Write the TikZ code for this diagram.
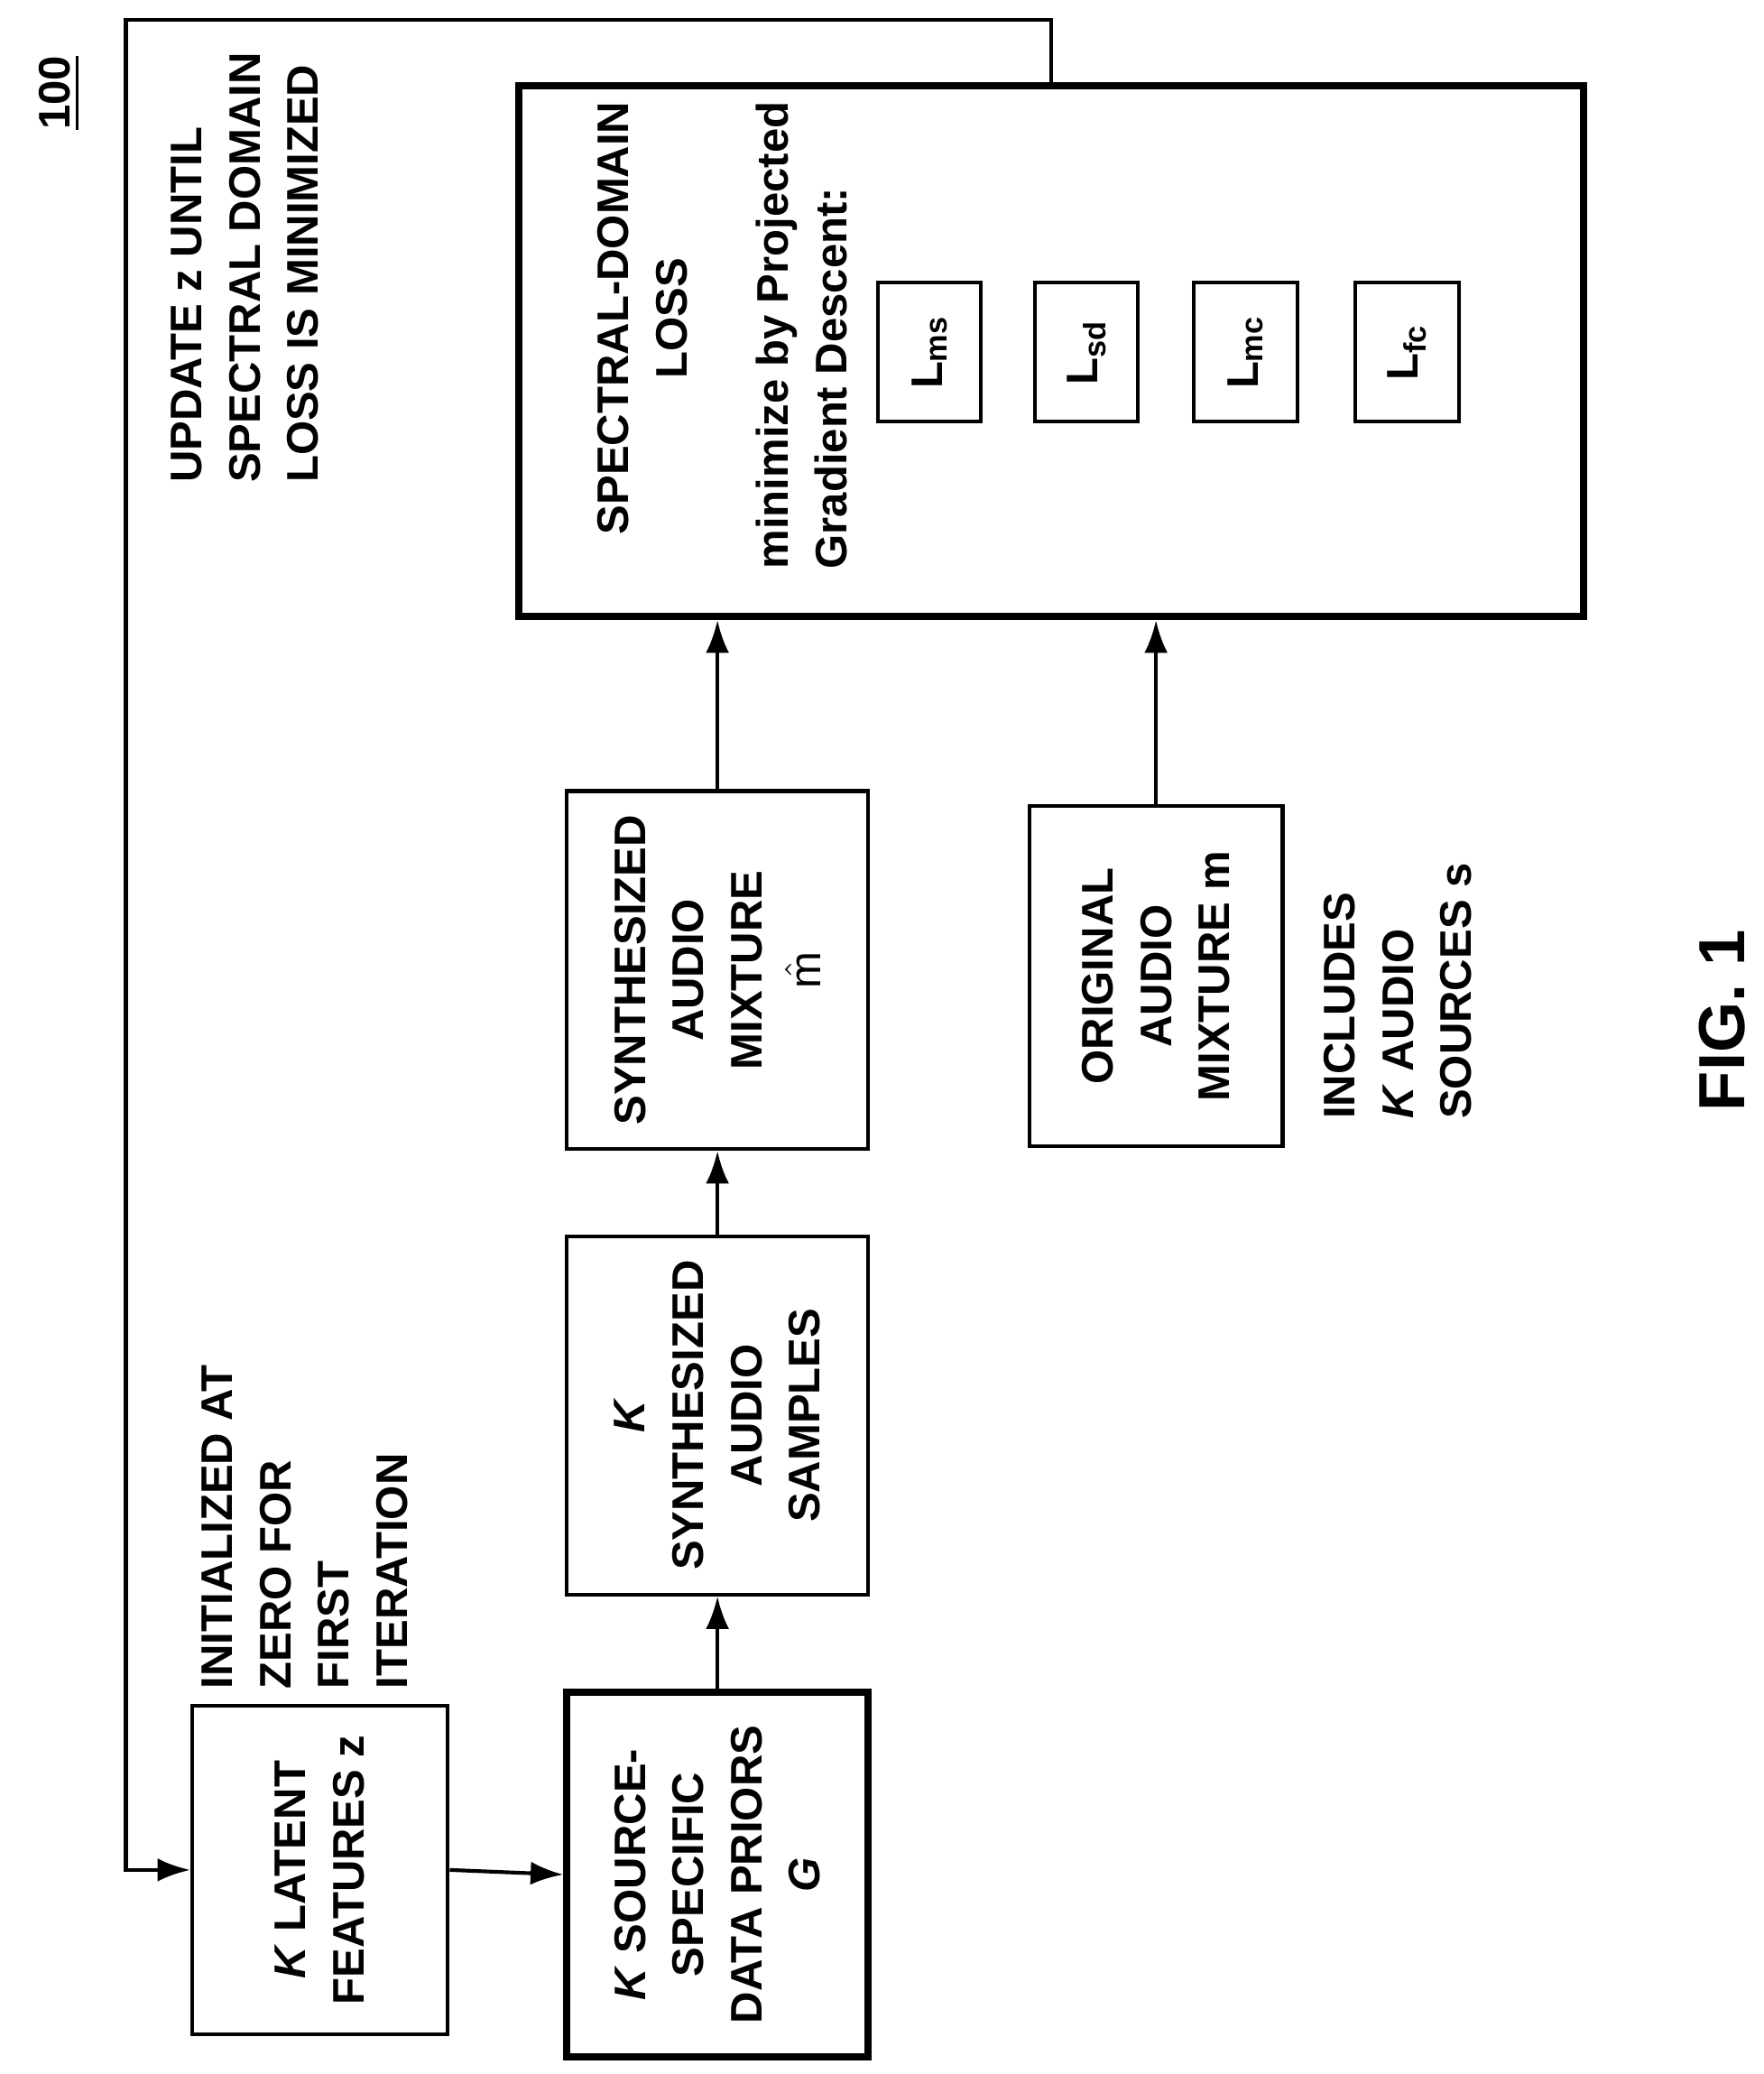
\documentclass[tikz,border=0pt]{standalone}
\usepackage{fontspec}
\setmainfont{Liberation Sans}
\usepackage{tikz}
\usetikzlibrary{positioning}
\usetikzlibrary{arrows.meta}

\begin{document}
\begin{tikzpicture}[
    x=0.01cm, y=-0.01cm,
    every node/.style = {font=\fontsize{9.5}{12.5}\selectfont\bfseries},
    box/.style = {draw, line width=0.8pt, inner sep=0pt},
    bigbox/.style = {box, line width=1.6pt},
    lbl/.style = {rotate=90, align=center, inner sep=0pt},
    note/.style = {rotate=90, align=left, anchor=west, inner sep=0pt},
    flow/.style = {-{Latex[length=7pt,width=5pt]}, line width=0.8pt}
]
\useasboundingbox (0,0) rectangle (1331,1565);

% blocks
\node[box, minimum width=1.93cm, minimum height=2.48cm] (latent) at (241.5,1411) {};
\node[bigbox, minimum width=2.27cm, minimum height=2.75cm] (priors) at (541.5,1414.5) {};
\node[box, minimum width=2.27cm, minimum height=2.70cm] (samples) at (541.5,1068) {};
\node[box, minimum width=2.27cm, minimum height=2.70cm] (mix) at (541.5,732) {};
\node[bigbox, minimum width=8.03cm, minimum height=4.00cm] (loss) at (793.5,265) {};
\node[box, minimum width=1.91cm, minimum height=2.57cm] (orig) at (872.5,736.5) {};

% loss terms
\foreach \n/\x/\s in {ms/701.5/ms, sd/820/sd, mc/940/mc, fc/1062/fc}
    \node[box, minimum width=0.78cm, minimum height=1.05cm] (l\n) at (\x,265.5) {};
\foreach \n/\s in {ms/ms, sd/sd, mc/mc, fc/fc}
    \node[lbl] (t\n) at (l\n) {L\textsubscript{\s}};

% texts
\node[lbl] (tlatent) at (latent) {\textit{K} LATENT\\FEATURES z};
\node[lbl] (tpriors) at (priors) {\textit{K} SOURCE-\\SPECIFIC\\DATA PRIORS\\\textit{G}};
\node[lbl] (tsamples) at (samples) {\textit{K}\\SYNTHESIZED\\AUDIO\\SAMPLES};
\node[lbl] (tmix) at (mix) {SYNTHESIZED\\AUDIO\\MIXTURE\\$\hat{\mathrm{m}}$};
\node[lbl] (torig) at (orig) {ORIGINAL\\AUDIO\\MIXTURE m};
\node[lbl] (tloss) at (485,240) {SPECTRAL-DOMAIN\\LOSS};
\node[note] (tmin) at (605,430) {minimize by Projected\\Gradient Descent:};
\node[note] (tinit) at (230,1275) {INITIALIZED AT\\ZERO FOR\\FIRST\\ITERATION};
\node[note] (tupdate) at (185,365) {UPDATE z UNTIL\\SPECTRAL DOMAIN\\LOSS IS MINIMIZED};
\node[note] (tincl) at (1055,845) {INCLUDES\\\textit{K} AUDIO\\SOURCES s};
\node[lbl] (ref) at (45,70) {\underline{100}};
\node[lbl, font=\fontsize{14}{16}\selectfont\bfseries] (fig) at (1300,770) {FIG. 1};

% connectors
\coordinate (top) at (95,15);
\draw[flow] (latent.east) -- (priors.west);
\draw[flow] (priors.north) -- (samples.south);
\draw[flow] (samples.north) -- (mix.south);
\draw[flow] (mix.north) -- (mix.north |- loss.south);
\draw[flow] (orig.north) -- (orig.north |- loss.south);
\draw[flow] (loss.north) -- (loss.north |- top) -- (top) |- (latent.west);
\end{tikzpicture}
\end{document}
